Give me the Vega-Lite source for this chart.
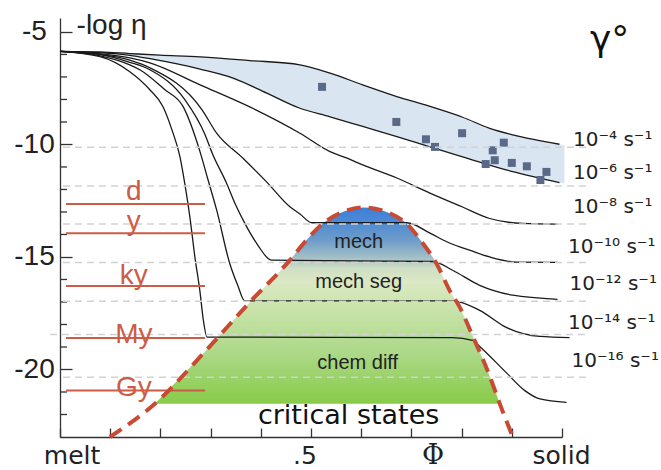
{
  "$schema": "https://vega.github.io/schema/vega-lite/v6.json",
  "width": 502,
  "height": 419,
  "autosize": {"type": "none"},
  "padding": {"left": 60, "top": 18, "right": 99, "bottom": 33},
  "background": "white",
  "config": {"view": {"stroke": null}},
  "datasets": {
    "band": [
      {"x": 0, "top": -5.86, "bot": -5.86},
      {"x": 0.08, "top": -5.89, "bot": -5.92},
      {"x": 0.139, "top": -5.96, "bot": -6.04},
      {"x": 0.199, "top": -6.03, "bot": -6.3},
      {"x": 0.279, "top": -6.11, "bot": -6.65},
      {"x": 0.378, "top": -6.27, "bot": -7.38},
      {"x": 0.478, "top": -6.46, "bot": -8.39},
      {"x": 0.538, "top": -6.83, "bot": -8.77},
      {"x": 0.603, "top": -7.35, "bot": -9.2},
      {"x": 0.671, "top": -7.87, "bot": -9.65},
      {"x": 0.737, "top": -8.31, "bot": -10.11},
      {"x": 0.802, "top": -8.79, "bot": -10.55},
      {"x": 0.856, "top": -9.28, "bot": -10.91},
      {"x": 0.902, "top": -9.57, "bot": -11.21},
      {"x": 0.995, "top": -9.99, "bot": -11.7},
      {"x": 1.005, "top": -10.05, "bot": -11.73}
    ],
    "domefill": [
      {"x": 0.189, "y": -21.52},
      {"x": 0.289, "y": -19.2},
      {"x": 0.378, "y": -17.01},
      {"x": 0.458, "y": -15.14},
      {"x": 0.491, "y": -14.25},
      {"x": 0.524, "y": -13.51},
      {"x": 0.557, "y": -13.06},
      {"x": 0.604, "y": -12.8},
      {"x": 0.657, "y": -13.06},
      {"x": 0.69, "y": -13.51},
      {"x": 0.723, "y": -14.4},
      {"x": 0.75, "y": -15.29},
      {"x": 0.776, "y": -16.48},
      {"x": 0.796, "y": -17.22},
      {"x": 0.823, "y": -18.56},
      {"x": 0.849, "y": -19.9},
      {"x": 0.869, "y": -21.08},
      {"x": 0.876, "y": -21.52}
    ],
    "domeline": [
      {"x": 0.0995, "y": -23.0},
      {"x": 0.189, "y": -21.52},
      {"x": 0.289, "y": -19.2},
      {"x": 0.378, "y": -17.01},
      {"x": 0.458, "y": -15.14},
      {"x": 0.491, "y": -14.25},
      {"x": 0.524, "y": -13.51},
      {"x": 0.557, "y": -13.06},
      {"x": 0.604, "y": -12.8},
      {"x": 0.657, "y": -13.06},
      {"x": 0.69, "y": -13.51},
      {"x": 0.723, "y": -14.4},
      {"x": 0.75, "y": -15.29},
      {"x": 0.776, "y": -16.48},
      {"x": 0.796, "y": -17.22},
      {"x": 0.823, "y": -18.56},
      {"x": 0.849, "y": -19.9},
      {"x": 0.869, "y": -21.08},
      {"x": 0.876, "y": -21.52},
      {"x": 0.889, "y": -22.27},
      {"x": 0.902, "y": -23.0}
    ],
    "minorticks": [
      {"v": -22}, {"v": -21}, {"v": -19}, {"v": -18}, {"v": -17}, {"v": -16}, {"v": -14}, {"v": -13},
      {"v": -12}, {"v": -11}, {"v": -9}, {"v": -8}, {"v": -7}, {"v": -6}
    ],
    "curves": [
      {"c": "1", "x": 0, "y": -5.86}, {"c": "1", "x": 0.08, "y": -5.89}, {"c": "1", "x": 0.139, "y": -5.96}, {"c": "1", "x": 0.199, "y": -6.03}, {"c": "1", "x": 0.279, "y": -6.11}, {"c": "1", "x": 0.378, "y": -6.27}, {"c": "1", "x": 0.478, "y": -6.46}, {"c": "1", "x": 0.538, "y": -6.83}, {"c": "1", "x": 0.603, "y": -7.35}, {"c": "1", "x": 0.671, "y": -7.87}, {"c": "1", "x": 0.737, "y": -8.31}, {"c": "1", "x": 0.802, "y": -8.79}, {"c": "1", "x": 0.856, "y": -9.28}, {"c": "1", "x": 0.902, "y": -9.57}, {"c": "1", "x": 0.995, "y": -9.99},
      {"c": "2", "x": 0, "y": -5.86}, {"c": "2", "x": 0.08, "y": -5.92}, {"c": "2", "x": 0.139, "y": -6.04}, {"c": "2", "x": 0.179, "y": -6.19}, {"c": "2", "x": 0.279, "y": -6.65}, {"c": "2", "x": 0.345, "y": -7.05}, {"c": "2", "x": 0.412, "y": -7.72}, {"c": "2", "x": 0.478, "y": -8.39}, {"c": "2", "x": 0.538, "y": -8.77}, {"c": "2", "x": 0.603, "y": -9.2}, {"c": "2", "x": 0.671, "y": -9.65}, {"c": "2", "x": 0.737, "y": -10.11}, {"c": "2", "x": 0.802, "y": -10.55}, {"c": "2", "x": 0.902, "y": -11.21}, {"c": "2", "x": 0.995, "y": -11.7},
      {"c": "3", "x": 0, "y": -5.86}, {"c": "3", "x": 0.08, "y": -5.97}, {"c": "3", "x": 0.139, "y": -6.15}, {"c": "3", "x": 0.179, "y": -6.37}, {"c": "3", "x": 0.279, "y": -7.35}, {"c": "3", "x": 0.378, "y": -8.33}, {"c": "3", "x": 0.478, "y": -9.5}, {"c": "3", "x": 0.538, "y": -10.32}, {"c": "3", "x": 0.572, "y": -10.61}, {"c": "3", "x": 0.603, "y": -10.91}, {"c": "3", "x": 0.671, "y": -11.49}, {"c": "3", "x": 0.737, "y": -12.16}, {"c": "3", "x": 0.802, "y": -12.78}, {"c": "3", "x": 0.856, "y": -13.29}, {"c": "3", "x": 0.922, "y": -13.51}, {"c": "3", "x": 0.991, "y": -13.54},
      {"c": "4", "x": 0, "y": -5.86}, {"c": "4", "x": 0.08, "y": -5.99}, {"c": "4", "x": 0.139, "y": -6.25}, {"c": "4", "x": 0.179, "y": -6.59}, {"c": "4", "x": 0.283, "y": -8.46}, {"c": "4", "x": 0.312, "y": -9.5}, {"c": "4", "x": 0.364, "y": -10.6}, {"c": "4", "x": 0.411, "y": -11.65}, {"c": "4", "x": 0.458, "y": -12.77}, {"c": "4", "x": 0.478, "y": -13.09}, {"c": "4", "x": 0.502, "y": -13.48}, {"c": "4", "x": 0.691, "y": -13.48}, {"c": "4", "x": 0.737, "y": -13.94}, {"c": "4", "x": 0.777, "y": -14.39}, {"c": "4", "x": 0.816, "y": -14.7}, {"c": "4", "x": 0.856, "y": -15.0}, {"c": "4", "x": 0.91, "y": -15.23}, {"c": "4", "x": 0.991, "y": -15.24},
      {"c": "5", "x": 0, "y": -5.86}, {"c": "5", "x": 0.08, "y": -6.01}, {"c": "5", "x": 0.139, "y": -6.35}, {"c": "5", "x": 0.179, "y": -6.68}, {"c": "5", "x": 0.249, "y": -8.02}, {"c": "5", "x": 0.289, "y": -9.57}, {"c": "5", "x": 0.303, "y": -10.38}, {"c": "5", "x": 0.332, "y": -11.73}, {"c": "5", "x": 0.35, "y": -12.69}, {"c": "5", "x": 0.372, "y": -13.66}, {"c": "5", "x": 0.394, "y": -14.47}, {"c": "5", "x": 0.421, "y": -15.14}, {"c": "5", "x": 0.743, "y": -15.2}, {"c": "5", "x": 0.782, "y": -15.59}, {"c": "5", "x": 0.836, "y": -16.26}, {"c": "5", "x": 0.902, "y": -16.7}, {"c": "5", "x": 0.991, "y": -16.88},
      {"c": "6", "x": 0, "y": -5.86}, {"c": "6", "x": 0.08, "y": -6.06}, {"c": "6", "x": 0.139, "y": -6.46}, {"c": "6", "x": 0.159, "y": -6.68}, {"c": "6", "x": 0.209, "y": -7.57}, {"c": "6", "x": 0.245, "y": -8.31}, {"c": "6", "x": 0.279, "y": -10.33}, {"c": "6", "x": 0.295, "y": -11.58}, {"c": "6", "x": 0.312, "y": -12.91}, {"c": "6", "x": 0.338, "y": -15.28}, {"c": "6", "x": 0.354, "y": -16.26}, {"c": "6", "x": 0.368, "y": -16.95}, {"c": "6", "x": 0.782, "y": -16.95}, {"c": "6", "x": 0.836, "y": -17.37}, {"c": "6", "x": 0.889, "y": -18.13}, {"c": "6", "x": 0.956, "y": -18.53}, {"c": "6", "x": 1.015, "y": -18.58},
      {"c": "7", "x": 0, "y": -5.86}, {"c": "7", "x": 0.08, "y": -6.1}, {"c": "7", "x": 0.139, "y": -6.77}, {"c": "7", "x": 0.179, "y": -7.57}, {"c": "7", "x": 0.205, "y": -8.31}, {"c": "7", "x": 0.223, "y": -9.35}, {"c": "7", "x": 0.239, "y": -10.55}, {"c": "7", "x": 0.249, "y": -11.8}, {"c": "7", "x": 0.259, "y": -13.27}, {"c": "7", "x": 0.269, "y": -15.05}, {"c": "7", "x": 0.279, "y": -16.57}, {"c": "7", "x": 0.285, "y": -17.72}, {"c": "7", "x": 0.293, "y": -18.56}, {"c": "7", "x": 0.782, "y": -18.58}, {"c": "7", "x": 0.822, "y": -18.71}, {"c": "7", "x": 0.836, "y": -18.98}, {"c": "7", "x": 0.889, "y": -20.14}, {"c": "7", "x": 0.926, "y": -20.94}, {"c": "7", "x": 0.956, "y": -21.31}, {"c": "7", "x": 1.009, "y": -21.46}
    ],
    "points": [
      {"x": 0.522, "y": -7.44}, {"x": 0.67, "y": -9.0}, {"x": 0.729, "y": -9.77}, {"x": 0.747, "y": -10.11},
      {"x": 0.801, "y": -9.5}, {"x": 0.862, "y": -10.26}, {"x": 0.884, "y": -9.92}, {"x": 0.848, "y": -10.87},
      {"x": 0.866, "y": -10.7}, {"x": 0.9, "y": -10.82}, {"x": 0.93, "y": -10.97}, {"x": 0.957, "y": -11.58},
      {"x": 0.969, "y": -11.22}
    ],
    "greylines": [
      {"x1": 0.006, "x2": 1.05, "y": -10.12},
      {"x1": 0.006, "x2": 1.05, "y": -11.85},
      {"x1": 0.006, "x2": 1.05, "y": -13.54},
      {"x1": 0.006, "x2": 1.05, "y": -15.25},
      {"x1": 0.006, "x2": 1.05, "y": -16.97},
      {"x1": -0.02, "x2": 1.05, "y": -18.45},
      {"x1": 0.006, "x2": 1.05, "y": -20.34}
    ],
    "timelines": [
      {"t": "d", "x1": 0.012, "x2": 0.289, "y": -12.65, "ty": -12.49},
      {"t": "y", "x1": 0.012, "x2": 0.289, "y": -13.95, "ty": -13.81},
      {"t": "ky", "x1": 0.012, "x2": 0.289, "y": -16.29, "ty": -16.2},
      {"t": "My", "x1": 0.012, "x2": 0.289, "y": -18.6, "ty": -18.83},
      {"t": "Gy", "x1": 0.012, "x2": 0.289, "y": -20.93, "ty": -21.16}
    ],
    "ratelabels": [
      {"t": "10⁻⁴ s⁻¹", "x": 1.022, "y": -10.05},
      {"t": "10⁻⁶ s⁻¹", "x": 1.022, "y": -11.53},
      {"t": "10⁻⁸ s⁻¹", "x": 1.022, "y": -13.06},
      {"t": "10⁻¹⁰ s⁻¹", "x": 1.012, "y": -14.84},
      {"t": "10⁻¹² s⁻¹", "x": 1.015, "y": -16.48},
      {"t": "10⁻¹⁴ s⁻¹", "x": 1.012, "y": -18.19},
      {"t": "10⁻¹⁶ s⁻¹", "x": 1.019, "y": -19.9}
    ],
    "regionlabels": [
      {"t": "mech", "x": 0.595, "y": -14.61},
      {"t": "mech seg", "x": 0.595, "y": -16.4},
      {"t": "chem diff", "x": 0.593, "y": -19.97}
    ],
    "xlabels": [
      {"t": "melt", "x": 0.024, "y": -24.2},
      {"t": ".5", "x": 0.488, "y": -24.2},
      {"t": "solid", "x": 0.999, "y": -24.2}
    ]
  },
  "layer": [
    {
      "data": {"name": "band"},
      "mark": {"type": "area", "color": "#d9e5f0", "interpolate": "monotone"},
      "encoding": {
        "x": {"field": "x", "type": "quantitative", "scale": {"domain": [0, 1], "nice": false, "zero": false},
          "axis": {"title": null, "grid": false, "labels": false, "values": [0, 0.1, 0.2, 0.3, 0.4, 0.5, 0.6, 0.7, 0.8, 0.9, 1], "tickSize": -9, "tickColor": "#333", "tickWidth": 1.3, "domainColor": "#333", "domainWidth": 1.3}},
        "y": {"field": "top", "type": "quantitative", "scale": {"domain": [-23, -4.38], "nice": false, "zero": false},
          "axis": {"title": null, "grid": false,
            "values": [-20, -15, -10, -5],
            "tickSize": -12,
            "tickColor": "#333", "tickWidth": 1.3, "domainColor": "#333", "domainWidth": 1.3,
            "labelExpr": "'-' + (-datum.value)",
            "labelFont": "Liberation Sans", "labelFontSize": 28, "labelColor": "#222",
            "labelAlign": "center", "labelBaseline": "middle", "labelPadding": 38,
            "labelOverlap": false, "labelFlush": false}},
        "y2": {"field": "bot"}
      }
    },
    {
      "data": {"name": "minorticks"},
      "mark": {"type": "tick", "orient": "horizontal", "size": 7, "thickness": 1.3, "color": "#333", "opacity": 1},
      "encoding": {
        "x": {"datum": 0.007, "type": "quantitative"},
        "y": {"field": "v", "type": "quantitative"}
      }
    },
    {
      "data": {"name": "domefill"},
      "mark": {"type": "area", "interpolate": "monotone",
        "color": {"gradient": "linear", "x1": 0, "y1": 0, "x2": 0, "y2": 1,
          "stops": [
            {"offset": 0, "color": "#3a7fd9"},
            {"offset": 0.08, "color": "#4f8bd3"},
            {"offset": 0.17, "color": "#6f9dc8"},
            {"offset": 0.25, "color": "#9fbdc6"},
            {"offset": 0.31, "color": "#cfdfc4"},
            {"offset": 0.38, "color": "#dbe8c4"},
            {"offset": 0.5, "color": "#cbe4ad"},
            {"offset": 0.75, "color": "#abd886"},
            {"offset": 1, "color": "#88cb48"}
          ]}},
      "encoding": {
        "x": {"field": "x", "type": "quantitative"},
        "y": {"field": "y", "type": "quantitative"},
        "y2": {"datum": -21.52}
      }
    },
    {
      "data": {"name": "curves"},
      "mark": {"type": "line", "color": "#1a1a1a", "strokeWidth": 1.3, "interpolate": "monotone"},
      "encoding": {
        "x": {"field": "x", "type": "quantitative"},
        "y": {"field": "y", "type": "quantitative"},
        "detail": {"field": "c", "type": "nominal"}
      }
    },
    {
      "data": {"name": "points"},
      "mark": {"type": "square", "size": 64, "color": "#5a6988", "opacity": 1},
      "encoding": {
        "x": {"field": "x", "type": "quantitative"},
        "y": {"field": "y", "type": "quantitative"}
      }
    },
    {
      "data": {"name": "greylines"},
      "mark": {"type": "rule", "color": "#d2d2d2", "strokeWidth": 1.5, "strokeDash": [7, 5]},
      "encoding": {
        "x": {"field": "x1", "type": "quantitative"},
        "x2": {"field": "x2"},
        "y": {"field": "y", "type": "quantitative"}
      }
    },
    {
      "data": {"name": "timelines"},
      "mark": {"type": "rule", "color": "#cc5c45", "strokeWidth": 2},
      "encoding": {
        "x": {"field": "x1", "type": "quantitative"},
        "x2": {"field": "x2"},
        "y": {"field": "y", "type": "quantitative"}
      }
    },
    {
      "data": {"name": "timelines"},
      "mark": {"type": "text", "color": "#cc5c45", "font": "Liberation Sans", "fontSize": 28, "align": "center", "baseline": "alphabetic"},
      "encoding": {
        "x": {"datum": 0.147, "type": "quantitative"},
        "y": {"field": "ty", "type": "quantitative"},
        "text": {"field": "t"}
      }
    },
    {
      "data": {"name": "domeline"},
      "mark": {"type": "line", "color": "#c94a33", "strokeWidth": 4, "strokeDash": [14, 8], "interpolate": "monotone"},
      "encoding": {
        "x": {"field": "x", "type": "quantitative"},
        "y": {"field": "y", "type": "quantitative"}
      }
    },
    {
      "data": {"name": "regionlabels"},
      "mark": {"type": "text", "color": "#222", "font": "Liberation Sans", "fontSize": 20, "align": "center", "baseline": "alphabetic"},
      "encoding": {
        "x": {"field": "x", "type": "quantitative"},
        "y": {"field": "y", "type": "quantitative"},
        "text": {"field": "t"}
      }
    },
    {
      "data": {"name": "ratelabels"},
      "mark": {"type": "text", "color": "#222", "font": "DejaVu Sans", "fontSize": 20, "align": "left", "baseline": "alphabetic"},
      "encoding": {
        "x": {"field": "x", "type": "quantitative"},
        "y": {"field": "y", "type": "quantitative"},
        "text": {"field": "t"}
      }
    },
    {
      "data": {"name": "xlabels"},
      "mark": {"type": "text", "color": "#222", "font": "DejaVu Sans", "fontSize": 25, "align": "center", "baseline": "alphabetic"},
      "encoding": {
        "x": {"field": "x", "type": "quantitative"},
        "y": {"field": "y", "type": "quantitative"},
        "text": {"field": "t"}
      }
    },
    {
      "data": {"values": [{"t": "Φ", "x": 0.743, "y": -24.2}]},
      "mark": {"type": "text", "color": "#222", "font": "DejaVu Serif", "fontSize": 27, "align": "center", "baseline": "alphabetic"},
      "encoding": {
        "x": {"field": "x", "type": "quantitative"},
        "y": {"field": "y", "type": "quantitative"},
        "text": {"field": "t"}
      }
    },
    {
      "data": {"values": [{"t": "critical states", "x": 0.575, "y": -22.41}]},
      "mark": {"type": "text", "color": "#111", "font": "DejaVu Sans", "fontSize": 27, "align": "center", "baseline": "alphabetic"},
      "encoding": {
        "x": {"field": "x", "type": "quantitative"},
        "y": {"field": "y", "type": "quantitative"},
        "text": {"field": "t"}
      }
    },
    {
      "data": {"values": [{"t": "γ°", "x": 1.095, "y": -5.85}]},
      "mark": {"type": "text", "color": "#111", "font": "DejaVu Sans", "fontSize": 36, "align": "center", "baseline": "alphabetic"},
      "encoding": {
        "x": {"field": "x", "type": "quantitative"},
        "y": {"field": "y", "type": "quantitative"},
        "text": {"field": "t"}
      }
    },
    {
      "data": {"values": [{"t": "-log η", "x": 0.033, "y": -5.09}]},
      "mark": {"type": "text", "color": "#222", "font": "Liberation Sans", "fontSize": 28, "align": "left", "baseline": "alphabetic"},
      "encoding": {
        "x": {"field": "x", "type": "quantitative"},
        "y": {"field": "y", "type": "quantitative"},
        "text": {"field": "t"}
      }
    }
  ]
}
